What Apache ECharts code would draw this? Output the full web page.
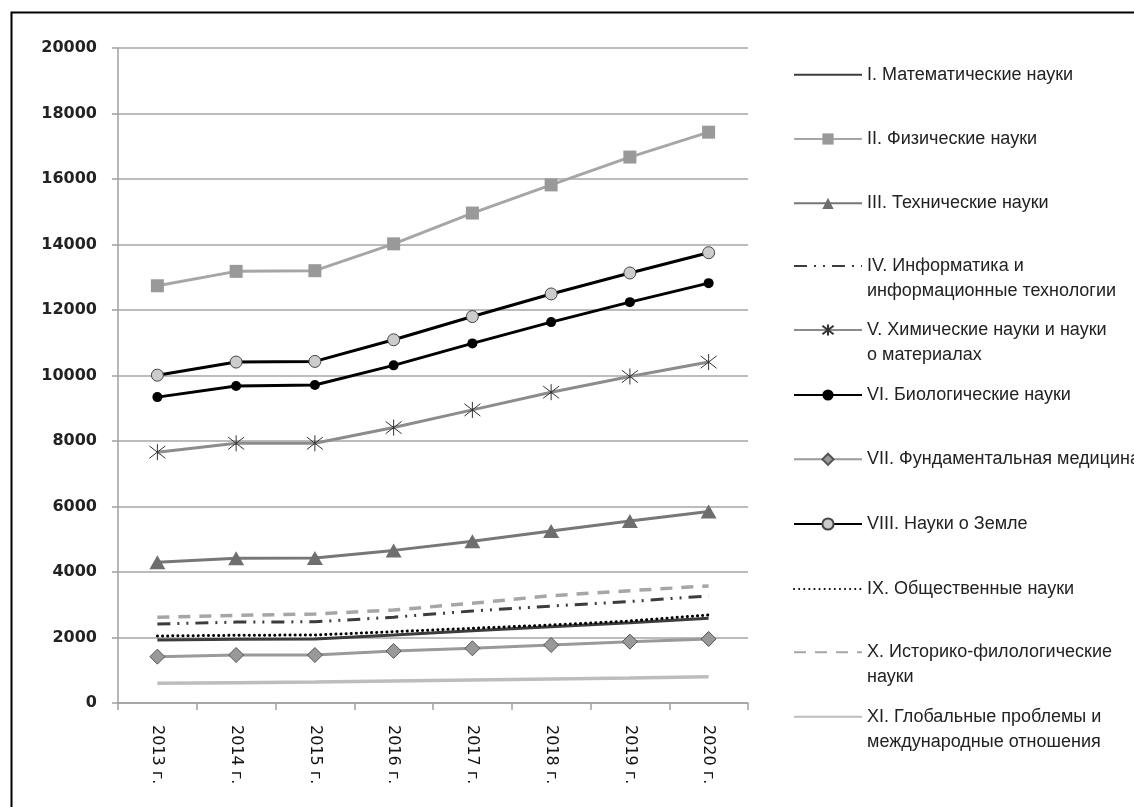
<!DOCTYPE html>
<html>
<head>
<meta charset="utf-8">
<script src="https://cdn.jsdelivr.net/npm/echarts@6/dist/echarts.min.js"></script>
<style>html,body{margin:0;padding:0;background:#fff}#c{width:1134px;height:807px}</style>
</head>
<body>
<div id="c"></div>
<script>
var categories = ['2013 г.','2014 г.','2015 г.','2016 г.','2017 г.','2018 г.','2019 г.','2020 г.'];
var names = [
  'I. Математические науки',
  'II. Физические науки',
  'III. Технические науки',
  'IV. Информатика и\nинформационные технологии',
  'V. Химические науки и науки\nо материалах',
  'VI. Биологические науки',
  'VII. Фундаментальная медицина',
  'VIII. Науки о Земле',
  'IX. Общественные науки',
  'X. Историко-филологические\nнауки',
  'XI. Глобальные проблемы и\nмеждународные отношения'
];
var s1 = [1924,1944,1955,2077,2209,2331,2453,2586];
var s2 = [12740,13180,13200,14020,14960,15820,16670,17430];
var s3 = [4300,4420,4430,4660,4940,5250,5560,5850];
var s4 = [2410,2470,2480,2620,2810,2960,3100,3270];
var s5 = [7660,7930,7930,8410,8950,9490,9970,10410];
var s6 = [9340,9680,9710,10310,10980,11630,12240,12820];
var s7 = [1415,1466,1466,1588,1670,1772,1874,1955];
var s8 = [10010,10410,10430,11090,11800,12490,13130,13750];
var s9 = [2046,2067,2077,2178,2281,2382,2505,2688];
var s10 = [2617,2677,2718,2840,3045,3277,3430,3574];
var s11 = [601,621,642,672,703,733,764,804];
var yTicks = [0,2000,4000,6000,8000,10000,12000,14000,16000,18000,20000];

var asterisk = 'path://M0,0L10,10M10,0L0,10M5,-1.5L5,11.5';

function ser(i, data, line, sym){
  var o = {
    name: names[i], type: 'line', data: data,
    lineStyle: line, color: line.color,
    symbol: 'none', animation: false, emphasis: {disabled: true}
  };
  if (sym) { o.symbol = sym.symbol; o.symbolSize = sym.size; o.itemStyle = sym.style; }
  return o;
}

var series = [
  ser(0, s1, {color:'#3c3c3c', width:3}),
  ser(1, s2, {color:'#a6a6a6', width:3}, {symbol:'rect', size:13, style:{color:'#999999'}}),
  ser(2, s3, {color:'#777777', width:3}, {symbol:'triangle', size:[16,14], style:{color:'#6e6e6e'}}),
  ser(3, s4, {color:'#3c3c3c', width:3, type:[13,7,2,7,2,7]}),
  ser(4, s5, {color:'#8c8c8c', width:3}, {symbol:asterisk, size:16, style:{color:'#333333', borderColor:'#333333', borderWidth:1}}),
  ser(5, s6, {color:'#000000', width:3}, {symbol:'circle', size:10, style:{color:'#000000'}}),
  ser(6, s7, {color:'#9a9a9a', width:3}, {symbol:'diamond', size:15, style:{color:'#999999', borderColor:'#555555', borderWidth:1}}),
  ser(7, s8, {color:'#000000', width:3}, {symbol:'circle', size:12, style:{color:'#cccccc', borderColor:'#444444', borderWidth:1}}),
  ser(8, s9, {color:'#000000', width:3, type:[0.1,5], cap:'round'}),
  ser(9, s10, {color:'#a6a6a6', width:3.5, type:[12,9]}),
  ser(10, s11, {color:'#bdbdbd', width:3.5})
];
var noMarker = [true,false,false,true,false,false,false,false,true,true,true];

var centers = [74.7, 139, 203.3, 266, 330, 395, 459.3, 524, 589, 652.3, 716.7];
var LH = 25;
var legends = names.map(function(n, i){
  var two = n.indexOf('\n') >= 0;
  var d = {name: n};
  if (noMarker[i]) d.itemStyle = {opacity: 0};
  return {
    data: [d], orient: 'vertical', left: 793,
    top: two ? centers[i] - LH * 1.5 : centers[i] - LH / 2,
    itemWidth: 68, itemHeight: 14, itemGap: 0, padding: 0,
    selectedMode: false, inactiveColor: '#222',
    formatter: function(name){ return name.indexOf('\n') >= 0 ? '\u00a0\n' + name : name; },
    textStyle: {
      fontFamily: 'Liberation Sans', fontSize: 18, color: '#222',
      lineHeight: LH
    }
  };
});

var chart = echarts.init(document.getElementById('c'), null, {renderer: 'canvas'});
chart.setOption({
  backgroundColor: '#ffffff',
  animation: false,
  grid: {left: 118, right: 386, top: 48, bottom: 104, containLabel: false},
  legend: legends,
  xAxis: {
    type: 'category', data: categories, boundaryGap: true,
    axisLine: {lineStyle: {color: '#a0a0a0', width: 1.5}},
    axisTick: {show: true, length: 7, alignWithLabel: false, lineStyle: {color: '#a0a0a0', width: 1.5}},
    axisLabel: {rotate: -90, margin: 22, fontFamily: 'DejaVu Sans', fontSize: 16, color: '#111'},
    splitLine: {show: false}
  },
  yAxis: {
    type: 'value', min: yTicks[0], max: yTicks[yTicks.length - 1], interval: yTicks[1] - yTicks[0],
    axisLine: {show: true, lineStyle: {color: '#a0a0a0', width: 1.5}},
    axisTick: {show: true, length: 6, inside: false, lineStyle: {color: '#a0a0a0', width: 1.5}},
    axisLabel: {margin: 21, fontFamily: 'DejaVu Sans', fontWeight: 'bold', fontSize: 16, color: '#222',
      formatter: function(v){ return String(v); }},
    splitLine: {show: true, lineStyle: {color: '#a6a6a6', width: 1.5}}
  },
  series: series,
  graphic: [{
    type: 'rect', left: 9, top: 10, z: 100, silent: true,
    shape: {x: 9, y: 10, width: 1300, height: 1000},
    style: {fill: 'none', stroke: '#000', lineWidth: 2}
  }]
});
</script>
</body>
</html>
